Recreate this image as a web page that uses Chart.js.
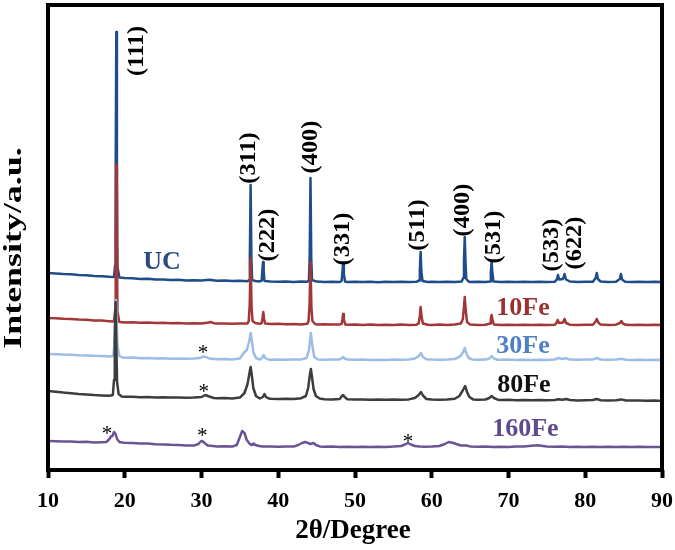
<!DOCTYPE html>
<html>
<head>
<meta charset="utf-8">
<script src="https://cdn.jsdelivr.net/npm/chart.js@4"></script>
<style>
  html, body { margin: 0; padding: 0; background: #fff; }
  #wrap { width: 675px; height: 550px; }
</style>
</head>
<body>
<div id="wrap"><canvas id="chart"></canvas></div>
<script>
// XRD patterns, [2θ, intensity a.u.]; each trace keeps its own offset.
const ucPoints = [
  [10,197],[11,196.6],[12,196],[13,195.8],[14,195],[15,194.7],[16,194],[17,193.8],[18,193.2],[18.6,193],
  [18.75,205],[18.82,300],[18.9,438],[18.98,290],[19.05,203],[19.3,192.5],
  [20,192],[21,191.7],[22,191],[23,191.2],[24,190.5],[25,190.6],[26,190],[27,190.2],[28,189.6],[29,189.8],
  [30,189.4],[31,190.2],[32,189.2],[33,189.4],[34,189],[35,189.2],[36,188.8],
  [36.2,190],[36.3,215],[36.4,285],[36.5,212],[36.6,190],[37,189],[37.6,188.6],
  [37.85,189.5],[37.95,202],[38.02,208],[38.1,200],[38.2,189],[39,188.4],[40,188.2],[41,188.5],[42,188],[43,188.4],[43.8,188.2],
  [44.0,190],[44.1,215],[44.2,292],[44.3,212],[44.4,190],[45,188.4],[46,188],[47,188.3],[48,188],[48.25,189],
  [48.35,197],[48.45,207],[48.55,196],[48.7,188.5],[49,188],[50,188.3],[51,188],[52,188.2],[53,187.8],[54,188.2],
  [55,188],[56,188.3],[57,188],[58,188.2],[58.35,189.5],
  [58.45,200],[58.55,218],[58.65,198],[58.8,189],[59.5,188],[60,188.2],[61,188],[62,188.3],[63,188],[63.9,188.5],
  [64.1,192],[64.2,210],[64.3,233],[64.4,207],[64.5,191],[64.8,188.5],[65,188],[66,188.2],[67,188],[67.6,188.5],
  [67.7,198],[67.8,208],[67.9,197],[68.05,188.5],[69,188],[70,188.3],[71,188],[72,188.2],[73,188],[74,188.3],
  [75,188],[76,188.2],[76.3,190.5],[76.45,195],[76.6,190.5],[77.1,191],[77.3,196],[77.5,190.5],[78,188.5],
  [79,188],[80,188.2],[81,188.2],[81.35,192],[81.5,197],[81.65,191],[82,188.5],[83,188],[84,188.2],
  [84.5,191],[84.65,196],[84.8,190.5],[85.2,188.3],[86,188],[87,188.2],[88,188],[89,188.3],[90,188]
];
const fe10Points = [
  [10,152],[11,151.8],[12,151.2],[13,151],[14,150.5],[15,150.2],[16,149.6],[17,149.4],[18,148.8],[18.6,148.5],
  [18.75,160],[18.82,230],[18.9,305],[18.98,225],[19.05,158],[19.3,148],
  [20,147.6],[21,147.8],[22,147.2],[23,147.4],[24,147],[25,147.2],[26,146.8],[27,147],[28,146.6],[29,146.8],
  [30,146.5],[30.9,147.5],[31.2,148],[31.6,146.8],[32,146.5],[33,146.6],[34,146.2],[35,146.4],[36,146.5],
  [36.15,149],[36.28,165],[36.4,212],[36.52,163],[36.65,149],[37,147],[37.6,146.2],
  [37.85,147],[37.95,152],[38.05,158],[38.15,151],[38.3,146.5],[39,146],[40,146.2],[41,145.8],[42,146],[43,145.6],[43.8,146.2],
  [43.95,149],[44.08,165],[44.2,208],[44.32,163],[44.45,149],[44.8,146],[45,145.6],[46,145.8],[47,145.4],[48,145.6],[48.25,146],
  [48.35,150],[48.45,156],[48.55,150],[48.75,145.5],[49,145.2],[50,145.5],[51,145],[52,145.4],[53,145],[54,145.3],
  [55,145],[56,145.4],[57,145],[58,145.3],[58.3,146.5],
  [58.45,154],[58.55,163],[58.68,153],[58.85,146.5],[59.5,145.2],[60,145],[61,145.4],[62,145],[63,145.4],[63.8,146.5],
  [64.05,151],[64.2,163],[64.3,173],[64.42,160],[64.6,148],[65,145.4],[66,145],[67,145.3],[67.6,146.5],
  [67.7,151],[67.8,155],[67.92,150],[68.1,145.5],[69,145],[70,145.3],[71,145],[72,145.2],[73,145],[74,145.3],
  [75,145],[76,145.2],[76.25,147],[76.4,150],[76.6,147],[77.1,147.5],[77.3,151],[77.5,147],[78,145.3],
  [79,145],[80,145.2],[81,145.3],[81.35,148.5],[81.5,151],[81.7,147.5],[82,145.4],[83,145],[84,145.3],
  [84.5,147],[84.7,149],[84.9,146.5],[85.3,145.2],[86,145],[87,145.3],[88,145],[89,145.2],[90,145]
];
const fe30Points = [
  [10,116],[11,115.8],[12,115.4],[13,115.2],[14,114.8],[15,114.6],[16,114.2],[17,114],[18,113.5],[18.5,114],
  [18.65,125],[18.75,150],[18.85,170],[18.95,148],[19.05,124],[19.3,114],[19.7,112.5],
  [20,112.2],[21,112.4],[22,111.8],[23,112],[24,111.6],[25,111.8],[26,111.3],[27,111.5],[28,111.2],[29,111.4],
  [29.8,112],[30.2,113.5],[30.6,113],[31,111.5],[32,110.8],[33,111],[34,110.6],[35,111.5],
  [35.5,117],[35.9,120],[36.2,128],[36.4,137],[36.55,130],[36.75,118],[37.1,112],[37.6,110.5],
  [37.9,112],[38.1,115],[38.3,112],[38.7,110.5],[39,110.3],[40,110.5],[41,110.2],[42,110.4],[43,110.6],
  [43.7,112],[44.0,120],[44.25,137],[44.45,124],[44.7,113],[45.2,110.5],[46,110.2],[47,110.4],[48,110.6],
  [48.3,112],[48.45,113],[48.65,111.5],[49,110.4],[50,110.2],[51,110.4],[52,110],[53,110.3],[54,110],[55,110.4],
  [56,110.2],[57,110.5],[57.8,111.5],[58.3,114],[58.6,117],[58.85,113],[59.3,110.8],[60,110.4],[61,110.2],[62,110.5],
  [63,111],[63.7,113.5],[64.1,118],[64.3,122],[64.5,117],[64.8,112],[65.3,110.5],[66,110.2],[67,110.4],
  [67.5,111.5],[67.8,114],[68.1,111.5],[68.6,110.3],[69,110.2],[70,110.4],[71,110],[72,110.3],[73,110],[74,110.3],
  [75,110],[76,110.5],[76.5,112],[77,111],[77.5,111.8],[78,110.4],[79,110.2],[80,110.4],[81,110.6],[81.5,112],
  [82,110.5],[83,110.2],[84,110.4],[84.7,111.3],[85.3,110.2],[86,110],[87,110.3],[88,110],[89,110.2],[90,110]
];
const fe80Points = [
  [10,79],[11,78.2],[12,77.4],[13,76.8],[14,76],[15,75.6],[16,75],[17,74.6],[18,74.2],[18.45,75],
  [18.6,90],[18.7,130],[18.8,168],[18.9,128],[19.0,88],[19.2,76],[19.6,73.5],
  [20,73.2],[21,73.3],[22,72.8],[23,73],[24,72.6],[25,72.8],[26,72.4],[27,72.6],[28,72.2],[29,72.4],
  [30,73],[30.5,75],[31,73.5],[31.6,72],[32,71.8],[33,72],[34,71.6],[35,72.4],
  [35.6,77],[36.0,86],[36.25,97],[36.4,103],[36.55,95],[36.75,82],[37.1,74],[37.6,71.5],
  [38.0,73],[38.2,76],[38.4,73],[38.8,71.4],[39,71.2],[40,71],[41,71.2],[42,71],[43,71.8],
  [43.6,74],[43.9,82],[44.1,94],[44.25,101],[44.4,93],[44.6,81],[44.9,74],[45.4,71.5],[46,70.8],[47,70.6],[48,71],
  [48.25,73.5],[48.45,75],[48.65,73],[49,70.8],[50,70.4],[51,70.6],[52,70.2],[53,70.5],[54,70.2],[55,70.4],
  [56,70.2],[57,70.6],[57.8,72],[58.3,75],[58.6,78],[58.85,74.5],[59.3,71],[60,70.4],[61,70.2],[62,70.6],
  [63,71.2],[63.6,74],[64.0,79],[64.35,84],[64.6,78],[64.9,73],[65.4,70.6],[66,70.2],[67,70.5],
  [67.5,72],[67.8,74],[68.1,72],[68.6,70.3],[69,70],[70,70.2],[71,69.8],[72,70],[73,69.7],[74,70],
  [75,69.7],[76,70],[76.5,70.8],[77,70.2],[77.5,71],[78,70],[79,69.6],[80,69.8],[81,70],[81.5,71],
  [82,69.8],[83,69.5],[84,69.7],[84.7,70.6],[85.3,69.5],[86,69.4],[87,69.6],[88,69.2],[89,69.4],[90,69]
];
const fe160Points = [
  [10,29],[11,28.8],[12,28.4],[13,28.6],[14,28],[15,28.2],[16,27.6],[17,27.8],[17.6,28],
  [18.0,31],[18.2,33.5],[18.4,34],[18.6,38],[18.8,36],[19.0,31],[19.3,28],[19.7,27.4],
  [20,27.2],[21,27],[22,26.6],[23,26.4],[24,25.8],[25,25.6],[26,25.2],[27,25],[28,24.6],[29,24.4],
  [29.6,26],[29.9,28.5],[30.1,29],[30.4,27],[30.8,24.6],[31.5,24],[32,23.6],[33,23.8],[34,23.4],
  [34.6,25],[35.0,33],[35.3,39],[35.6,37],[35.9,30],[36.3,26],[36.6,25],[36.8,26.5],[37.0,25],[37.5,24],
  [38,23.6],[39,23.4],[40,23.2],[41,23.6],[42,23.4],[42.6,25],[43.1,27],[43.5,28],[43.9,27],[44.2,26],
  [44.6,27],[44.9,25],[45.4,23.6],[46,23.2],[47,23.4],[48,23],[49,23.2],[50,23],[51,23.3],[52,23],
  [53,23.2],[54,23],[55,23.4],[56,24],[56.5,25.5],[56.9,27],[57.3,25.5],[57.8,24],[58.4,23.4],[59,23.2],
  [60,23.4],[61,24],[61.7,26],[62.2,28],[62.6,27.5],[63.2,26],[63.8,24.5],[64.5,24.5],[65,23.6],[66,23.2],
  [67,23.4],[68,23],[69,23.2],[70,23.1],[71,23.4],[72,23.6],[73,24.2],[73.8,24.8],[74.5,24],[75,23.5],
  [76,23.2],[77,23.4],[78,23],[79,23.2],[80,23],[81,23.3],[82,23],[83,23.2],[84,23],[85,23.3],
  [86,23],[87,23.2],[88,23],[89,23.1],[90,23]
];

const seriesNames = ["UC", "10Fe", "30Fe", "80Fe", "160Fe"];
const seriesPoints = [ucPoints, fe10Points, fe30Points, fe80Points, fe160Points];
const lineColors = ["#1f4d8a", "#a33636", "#9dbde6", "#3d3d3d", "#6c5494"];
const textColors = ["#2a4b7c", "#9b3232", "#4f80c2", "#111111", "#5e4a8c"];
// where each sample name sits, in data units
const nameX = [24.85, 71.9, 71.9, 72.0, 72.2];
const nameY = [208, 162, 124, 85, 41];

// Miller index labels over the UC peaks
const peakLabels = ["(111)", "(311)", "(222)", "(400)", "(331)", "(511)", "(400)", "(531)", "(533)", "(622)"];
const peakLabelX = [21.6, 36.2, 38.7, 44.3, 48.4, 58.2, 64.1, 68.1, 75.7, 78.7];
const peakLabelY = [419, 312, 235, 323, 231, 245, 260, 233, 225, 227];

// impurity markers
const starX = [17.7, 30.1, 56.9, 30.2, 30.3];
const starY = [40, 38, 32, 121, 82];

const xTicks = [10, 20, 30, 40, 50, 60, 70, 80, 90];

const SERIF = '"Liberation Serif", "Times New Roman", serif';

const overlay = {
  id: "overlay",
  afterDatasetsDraw(chart) {
    const { ctx, chartArea: a, scales: { x, y } } = chart;
    ctx.save();

    ctx.strokeStyle = "#000";
    ctx.lineWidth = 4;
    ctx.strokeRect(a.left, a.top, a.right - a.left, a.bottom - a.top);

    // rotated hkl labels
    ctx.fillStyle = "#000";
    ctx.font = `bold 23px ${SERIF}`;
    ctx.textAlign = "center";
    ctx.textBaseline = "middle";
    peakLabels.forEach((t, i) => {
      ctx.save();
      ctx.translate(x.getPixelForValue(peakLabelX[i]), y.getPixelForValue(peakLabelY[i]));
      ctx.rotate(-Math.PI / 2);
      ctx.scale(1.06, 1);
      ctx.fillText(t, 0, 0);
      ctx.restore();
    });

    ctx.font = `bold 26px ${SERIF}`;
    seriesNames.forEach((n, i) => {
      ctx.fillStyle = textColors[i];
      ctx.fillText(n, x.getPixelForValue(nameX[i]), y.getPixelForValue(nameY[i]));
    });

    ctx.fillStyle = "#000";
    ctx.font = `21px ${SERIF}`;
    ctx.textBaseline = "alphabetic";
    starX.forEach((sx, i) => {
      ctx.fillText("*", x.getPixelForValue(sx), y.getPixelForValue(starY[i]) + 10);
    });

    // axis titles
    ctx.textBaseline = "middle";
    ctx.font = `bold 27px ${SERIF}`;
    ctx.fillText("2θ/Degree", (a.left + a.right) / 2 - 2, 531);
    ctx.save();
    ctx.translate(14, 248);
    ctx.rotate(-Math.PI / 2);
    ctx.scale(1.38, 1);
    ctx.font = `bold 26px ${SERIF}`;
    ctx.fillText("Intensity/a.u.", 0, 0);
    ctx.restore();

    ctx.restore();
  },
};

new Chart(document.getElementById("chart"), {
  type: "line",
  data: {
    datasets: seriesNames.map((name, i) => ({
      label: name,
      data: seriesPoints[i],
      borderColor: lineColors[i],
      borderWidth: 2.5,
      borderJoinStyle: "round",
      pointRadius: 0,
      tension: 0,
      fill: false,
      // later samples are drawn on top of earlier ones
      order: seriesNames.length - i,
    })),
  },
  options: {
    responsive: true,
    maintainAspectRatio: false,
    animation: false,
    layout: { padding: { left: 48, right: 13, top: 5, bottom: 0 } },
    plugins: { legend: { display: false }, tooltip: { enabled: false } },
    scales: {
      x: {
        type: "linear",
        min: 10,
        max: 90,
        afterBuildTicks: (s) => { s.ticks = xTicks.map((v) => ({ value: v })); },
        // fixed box so the plot frame lands where the original one is
        afterFit: (s) => {
          s.height = 80;
          s.paddingLeft = 0;
          s.paddingRight = 0;
        },
        ticks: { color: "#000", padding: 10, font: { family: SERIF, size: 22, weight: "bold" } },
        grid: { drawOnChartArea: false, drawTicks: true, tickLength: 8, tickWidth: 4, tickColor: "#000" },
        border: { display: false },
      },
      y: { display: false, min: 0, max: 465 },
    },
  },
  plugins: [overlay],
});
</script>
</body>
</html>
